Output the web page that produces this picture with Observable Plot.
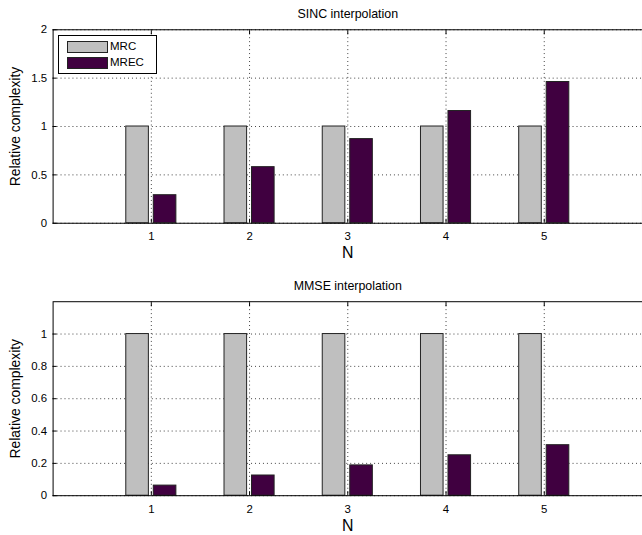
<!DOCTYPE html>
<html><head><meta charset="utf-8">
<script src="https://cdn.jsdelivr.net/npm/d3@7"></script>
<script src="https://cdn.jsdelivr.net/npm/@observablehq/plot@0.6"></script>
<style>
body{margin:0;background:#fff;}
#wrap{position:relative;width:642px;height:535px;overflow:hidden;font-family:"Liberation Sans",Arial,Helvetica,sans-serif;background:#fff;}
#wrap svg{position:absolute;left:0;}
.legend{position:absolute;left:58px;top:35px;width:97px;height:37px;border:1px solid #000;background:#fff;font-size:11.5px;}
.legend .row{position:absolute;left:8px;height:12px;}
.legend .sw{position:absolute;left:0;top:0;width:39px;height:10px;border:1px solid #222;}
.legend .lab{position:absolute;left:43px;top:-1px;line-height:13px;color:#000;}
</style></head><body><div id="wrap"></div>
<script>
// ---- data ----
const N = [1, 2, 3, 4, 5];
const series = ["MRC", "MREC"];
const colors = ["#bfbfbf", "#400040"];
const sincMRC = [1, 1, 1, 1, 1];
const sincMREC = [0.29, 0.58, 0.87, 1.16, 1.46];
const mmseMRC = [1, 1, 1, 1, 1];
const mmseMREC = [0.0625, 0.125, 0.1875, 0.25, 0.3125];
const sincYTicks = [0, 0.5, 1, 1.5, 2];
const mmseYTicks = [0, 0.2, 0.4, 0.6, 0.8, 1];
const titles = ["SINC interpolation", "MMSE interpolation"];
const xLabel = "N";
const yLabel = "Relative complexity";

// bar group layout (offset from N, in x units)
const barOffset = {MRC: [-0.255, -0.025], MREC: [0.025, 0.255]};

function rows(mrc, mrec) {
  const out = [];
  N.forEach((n, i) => {
    out.push({N: n, series: "MRC", value: mrc[i]});
    out.push({N: n, series: "MREC", value: mrec[i]});
  });
  return out;
}

function panel({data, yDomain, yTicks, title, top, height, marginTop, marginBottom}) {
  const grid = {stroke: "#000", strokeOpacity: 0.75, strokeDasharray: "1,3", strokeWidth: 1};
  const svg = Plot.plot({
    width: 647,
    height,
    marginLeft: 53,
    marginRight: 0,
    marginTop,
    marginBottom,
    style: {fontFamily: '"Liberation Sans", Arial, Helvetica, sans-serif', background: "#fff", overflow: "visible"},
    x: {domain: [0, 6]},
    y: {domain: yDomain},
    color: {domain: series, range: colors},
    marks: [
      Plot.gridX(N, grid),
      Plot.gridY(yTicks, grid),
      Plot.rect(data, {
        x1: d => d.N + barOffset[d.series][0],
        x2: d => d.N + barOffset[d.series][1],
        y1: 0,
        y2: "value",
        fill: "series",
        stroke: "#222",
        strokeWidth: 1
      }),
      Plot.axisX(N, {anchor: "bottom", tickSize: 0, tickPadding: 9, fontSize: 11.5, label: null, tickFormat: d => String(d)}),
      Plot.axisX(N, {anchor: "bottom", tickSize: -4, text: null, label: null}),
      Plot.axisX(N, {anchor: "top", tickSize: -4, text: null, label: null}),
      Plot.axisY(yTicks, {anchor: "left", tickSize: 0, tickPadding: 6, fontSize: 11.5, label: null, tickFormat: d => String(d)}),
      Plot.axisY(yTicks, {anchor: "left", tickSize: -4, text: null, label: null}),
      Plot.frame({stroke: "#000", strokeWidth: 1}),
      Plot.text([title], {frameAnchor: "top", dy: -16, lineAnchor: "middle", textAnchor: "middle", fontSize: 12.5, fill: "#000"}),
      Plot.text([xLabel], {frameAnchor: "bottom", dy: 30, lineAnchor: "middle", textAnchor: "middle", fontSize: 16, fill: "#000"}),
      Plot.text([yLabel], {frameAnchor: "left", dx: -38, rotate: -90, lineAnchor: "middle", textAnchor: "middle", fontSize: 14, fill: "#000"})
    ]
  });
  svg.style.top = top + "px";
  return svg;
}

const wrap = document.getElementById("wrap");
wrap.appendChild(panel({
  data: rows(sincMRC, sincMREC), yDomain: [0, 2], yTicks: sincYTicks,
  title: titles[0], top: 0, height: 265, marginTop: 29.5, marginBottom: 40.5
}));
wrap.appendChild(panel({
  data: rows(mmseMRC, mmseMREC), yDomain: [0, 1.2], yTicks: mmseYTicks,
  title: titles[1], top: 265, height: 270, marginTop: 36.5, marginBottom: 38
}));

// legend (top panel)
const leg = document.createElement("div");
leg.className = "legend";
series.forEach((s, i) => {
  const r = document.createElement("div");
  r.className = "row";
  r.style.top = (5 + i * 16) + "px";
  const sw = document.createElement("div");
  sw.className = "sw";
  sw.style.background = colors[i];
  const lab = document.createElement("div");
  lab.className = "lab";
  lab.textContent = s;
  r.appendChild(sw); r.appendChild(lab);
  leg.appendChild(r);
});
wrap.appendChild(leg);
</script>
</body></html>
